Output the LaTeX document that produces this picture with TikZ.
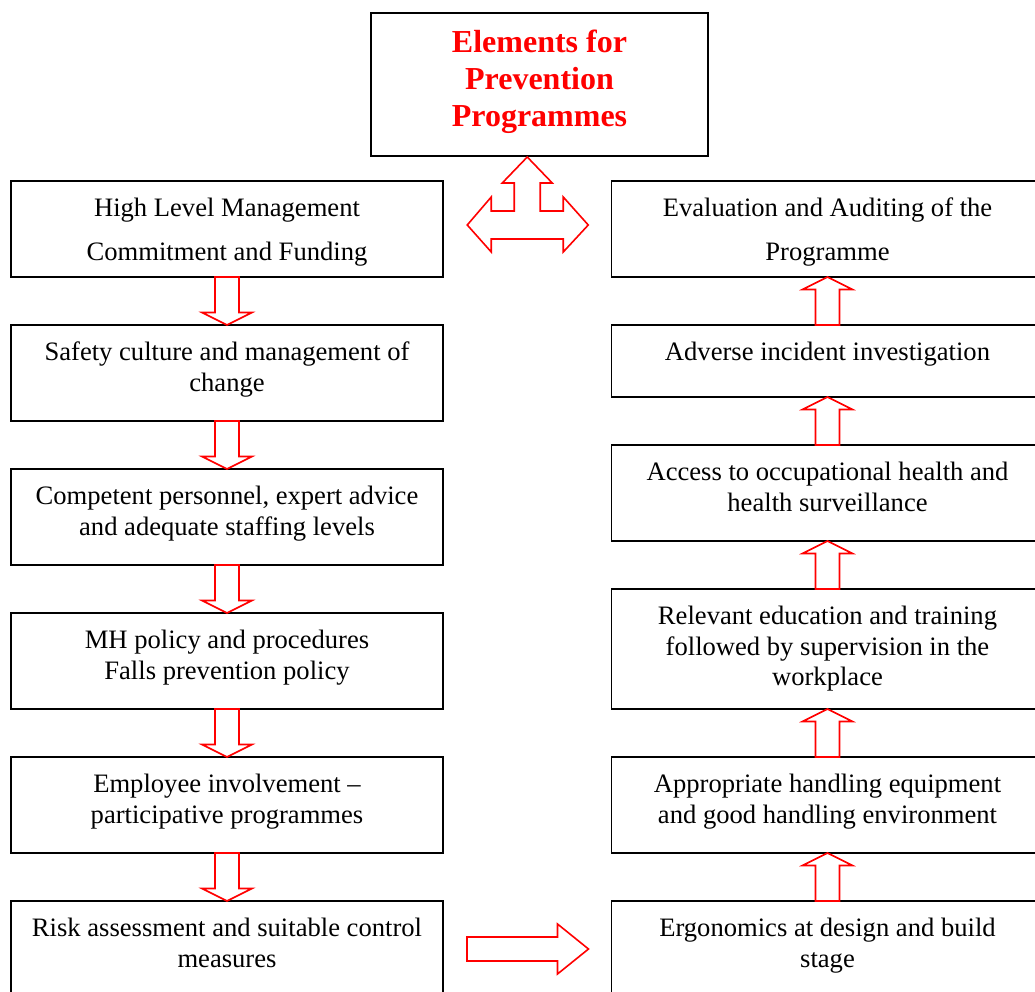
\documentclass[tikz,border=0pt]{standalone}
\usepackage{fontspec}
\setmainfont{Liberation Serif}
\usetikzlibrary{calc}
\definecolor{arrowred}{RGB}{255,0,0}

% strut that fixes the height of the first text line in every box
\newcommand\firstline{\rule{0pt}{20pt}}
\newcommand\titleline{\rule{0pt}{24pt}}

\tikzset{
  box/.style={rectangle, draw=black, line width=1.6pt, minimum width=432pt,
              minimum height=96pt, inner sep=0pt, outer sep=0pt},
  txt/.style={anchor=north, align=center, inner sep=0pt, text=black,
              font=\fontsize{26.6}{30.8}\selectfont},
  widetxt/.style={txt, font=\fontsize{26.6}{44}\selectfont},
  ttl/.style={anchor=north, align=center, inner sep=0pt, text=arrowred,
              font=\fontsize{32}{37}\selectfont\bfseries},
  blk/.style={draw=arrowred, line width=1.6pt, fill=white, line join=miter},
}

% hollow block arrow pointing down from box #1 to box #2
\newcommand\blockdown[2]{%
  \draw[blk] ($(#1.south)+(-12,0)$) -- ($(#2.north)+(-12,12.5)$)
    -- ($(#2.north)+(-25,12.5)$) -- (#2.north) -- ($(#2.north)+(25,12.5)$)
    -- ($(#2.north)+(12,12.5)$) -- ($(#1.south)+(12,0)$) -- cycle;}
% hollow block arrow pointing up from box #1 to box #2
\newcommand\blockup[2]{%
  \draw[blk] ($(#1.north)+(-12,0)$) -- ($(#2.south)+(-12,-12.5)$)
    -- ($(#2.south)+(-25,-12.5)$) -- (#2.south) -- ($(#2.south)+(25,-12.5)$)
    -- ($(#2.south)+(12,-12.5)$) -- ($(#1.north)+(12,0)$) -- cycle;}

\begin{document}
\begin{tikzpicture}[x=1pt,y=1pt]
\useasboundingbox (0,0) rectangle (1035,-992);

% title
\node[box, minimum width=337pt, minimum height=143.3pt] (title) at (539.5,-84.4) {};
\node[ttl] (titletext) at ($(title.north)+(0,-16)$)
  {\titleline Elements for\\Prevention\\Programmes};

% left column
\node[box] (l1) at (227,-229) {};
\node[box] (l2) at (227,-373) {};
\node[box] (l3) at (227,-517) {};
\node[box] (l4) at (227,-661) {};
\node[box] (l5) at (227,-805) {};
\node[box] (l6) at (227,-949) {};

\node[widetxt] (l1t) at ($(l1.north)+(0,-15)$) {\firstline High Level Management\\Commitment and Funding};
\node[txt] (l2t) at ($(l2.north)+(0,-15)$) {\firstline Safety culture and management of\\change};
\node[txt] (l3t) at ($(l3.north)+(0,-15)$) {\firstline Competent personnel, expert advice\\and adequate staffing levels};
\node[txt] (l4t) at ($(l4.north)+(0,-15)$) {\firstline MH policy and procedures\\Falls prevention policy};
\node[txt] (l5t) at ($(l5.north)+(0,-15)$) {\firstline Employee involvement --\\participative programmes};
\node[txt] (l6t) at ($(l6.north)+(0,-15)$) {\firstline Risk assessment and suitable control\\measures};

% right column
\node[box] (r1) at (827.5,-229) {};
\node[box, minimum height=72pt] (r2) at (827.5,-361) {};
\node[box] (r3) at (827.5,-493) {};
\node[box, minimum height=120pt] (r4) at (827.5,-649) {};
\node[box] (r5) at (827.5,-805) {};
\node[box] (r6) at (827.5,-949) {};

\node[widetxt] (r1t) at ($(r1.north)+(0,-15)$) {\firstline Evaluation and Auditing of the\\Programme};
\node[txt] (r2t) at ($(r2.north)+(0,-15)$) {\firstline Adverse incident investigation};
\node[txt] (r3t) at ($(r3.north)+(0,-15)$) {\firstline Access to occupational health and\\health surveillance};
\node[txt] (r4t) at ($(r4.north)+(0,-15)$) {\firstline Relevant education and training\\followed by supervision in the\\workplace};
\node[txt] (r5t) at ($(r5.north)+(0,-15)$) {\firstline Appropriate handling equipment\\and good handling environment};
\node[txt] (r6t) at ($(r6.north)+(0,-15)$) {\firstline Ergonomics at design and build\\stage};

% flow down the left column
\blockdown{l1}{l2}
\blockdown{l2}{l3}
\blockdown{l3}{l4}
\blockdown{l4}{l5}
\blockdown{l5}{l6}

% across the bottom
\draw[blk] ($(l6.east)+(24,12)$) -- ($(r6.west)+(-54,12)$) -- ($(r6.west)+(-54,25)$)
  -- ($(r6.west)+(-23,0)$) -- ($(r6.west)+(-54,-25)$) -- ($(r6.west)+(-54,-12)$)
  -- ($(l6.east)+(24,-12)$) -- cycle;

% flow up the right column
\blockup{r6}{r5}
\blockup{r5}{r4}
\blockup{r4}{r3}
\blockup{r3}{r2}
\blockup{r2}{r1}

% three-way arrow linking the title with both columns
\coordinate (hub) at ($($(l1.east)!0.5!(r1.west)$)+(0,4)$);
\begin{scope}[shift={(hub)}]
\draw[blk] (0,68) -- (25,42) -- (13,42) -- (13,14) -- (36,14) -- (36,28)
  -- (61,0) -- (36,-27) -- (36,-14) -- (-36,-14) -- (-36,-27) -- (-60,0)
  -- (-36,28) -- (-36,14) -- (-13,14) -- (-13,42) -- (-25,42) -- cycle;
\end{scope}
\end{tikzpicture}
\end{document}
